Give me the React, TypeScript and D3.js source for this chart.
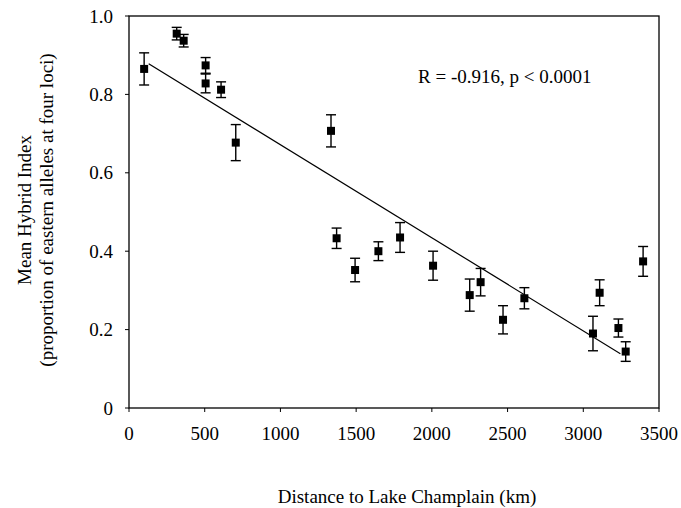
import React from "react";
import * as d3 from "d3";

const distanceKm = [100, 315, 361, 506, 506, 608, 705, 1334, 1371, 1493, 1647, 1790, 2008, 2250, 2322, 2470, 2611, 3064, 3108, 3232, 3280, 3395];
const hybridIndex = [0.865, 0.955, 0.937, 0.874, 0.828, 0.812, 0.677, 0.707, 0.433, 0.352, 0.400, 0.435, 0.363, 0.288, 0.321, 0.225, 0.280, 0.190, 0.294, 0.204, 0.144, 0.374];
const errorHalf = [0.041, 0.016, 0.016, 0.02, 0.024, 0.02, 0.046, 0.041, 0.026, 0.03, 0.024, 0.038, 0.037, 0.041, 0.035, 0.036, 0.027, 0.044, 0.033, 0.023, 0.025, 0.038];

const xTicks = [0, 500, 1000, 1500, 2000, 2500, 3000, 3500];
const yTicks = [0, 0.2, 0.4, 0.6, 0.8, 1.0];
const yTickLabels = ["0", "0.2", "0.4", "0.6", "0.8", "1.0"];

const regressionIntercept = 0.909;
const regressionSlope = -0.0002374;
const regressionRange = [130, 3245];

const annotation = "R = -0.916, p < 0.0001";
const xTitle = "Distance to Lake Champlain (km)";
const yTitle1 = "Mean Hybrid Index";
const yTitle2 = "(proportion of eastern alleles at four loci)";

export default function App() {
  const W = 681, H = 508;
  const left = 129, right = 659, top = 16, bottom = 408;
  const x = d3.scaleLinear().domain([0, 3500]).range([left, right]);
  const y = d3.scaleLinear().domain([0, 1]).range([bottom, top]);
  const font = "'Liberation Serif', 'Times New Roman', serif";
  const fs = 19;
  const line = d3.line<number>().x((d) => x(d)).y((d) => y(regressionIntercept + regressionSlope * d));
  const ms = 8;
  const cap = 5;

  return (
    <svg width={W} height={H} style={{ position: "absolute", left: 0, top: 0, background: "#fff" }} fontFamily={font}>
      <rect x={0} y={0} width={W} height={H} fill="#fff" />
      <rect x={left} y={top} width={right - left} height={bottom - top} fill="none" stroke="#000" strokeWidth={1.3} />
      {xTicks.map((t) => (
        <g key={"x" + t}>
          <line x1={x(t)} x2={x(t)} y1={bottom} y2={bottom + 4} stroke="#000" strokeWidth={1} />
          <text x={x(t)} y={440} textAnchor="middle" fontSize={fs}>{t}</text>
        </g>
      ))}
      {yTicks.map((t, i) => (
        <g key={"y" + t}>
          <line x1={left - 4} x2={left} y1={y(t)} y2={y(t)} stroke="#000" strokeWidth={1} />
          <text x={113} y={y(t) + 6.5} textAnchor="end" fontSize={fs}>{yTickLabels[i]}</text>
        </g>
      ))}
      <path d={line(regressionRange) || ""} fill="none" stroke="#000" strokeWidth={1.2} />
      {distanceKm.map((d, i) => {
        const cx = x(d);
        const yh = y(hybridIndex[i] + errorHalf[i]);
        const yl = y(hybridIndex[i] - errorHalf[i]);
        return (
          <g key={"p" + i}>
            <line x1={cx} x2={cx} y1={yh} y2={yl} stroke="#000" strokeWidth={1.4} />
            <line x1={cx - cap} x2={cx + cap} y1={yh} y2={yh} stroke="#000" strokeWidth={1.4} />
            <line x1={cx - cap} x2={cx + cap} y1={yl} y2={yl} stroke="#000" strokeWidth={1.4} />
            <rect x={cx - ms / 2} y={y(hybridIndex[i]) - ms / 2} width={ms} height={ms} fill="#000" />
          </g>
        );
      })}
      <text x={418} y={83} fontSize={fs}>{annotation}</text>
      <text x={407} y={503} textAnchor="middle" fontSize={fs}>{xTitle}</text>
      <text transform={`translate(31,210) rotate(-90)`} textAnchor="middle" fontSize={fs}>{yTitle1}</text>
      <text transform={`translate(53,210) rotate(-90)`} textAnchor="middle" fontSize={fs}>{yTitle2}</text>
    </svg>
  );
}
